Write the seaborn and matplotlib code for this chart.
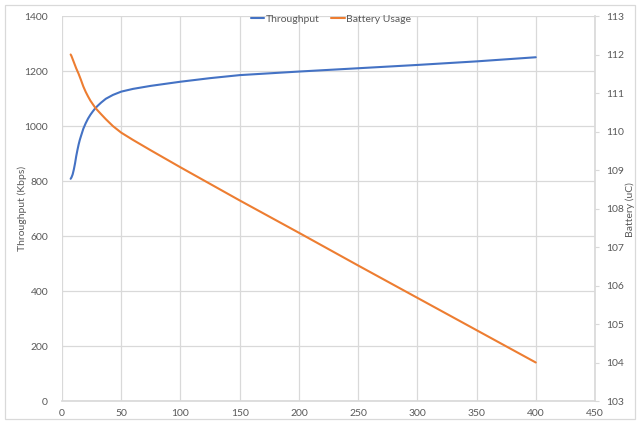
import matplotlib
matplotlib.use("Agg")
import matplotlib.pyplot as plt
import seaborn as sns
import pandas as pd
from matplotlib.patches import Rectangle
from matplotlib.lines import Line2D

# Measurement points
distance = [7.3, 8, 9, 10, 11, 12, 13, 14, 15, 16, 18, 20, 22, 24, 26, 28, 30, 33,
            37, 43, 50, 60, 75, 100, 125, 150, 200, 250, 300, 350, 400]
throughput = [808, 813, 824, 842, 864, 890, 912, 932, 949, 963, 990, 1010, 1027,
              1041, 1053, 1064, 1073, 1085, 1099, 1113, 1125, 1135, 1146, 1161,
              1174, 1185, 1198, 1210, 1222, 1235, 1250]
battery = [112.0, 111.96, 111.88, 111.80, 111.72, 111.64, 111.57, 111.50, 111.42,
           111.34, 111.17, 111.03, 110.91, 110.80, 110.71, 110.62, 110.55, 110.45,
           110.32, 110.14, 109.97, 109.78, 109.51, 109.07, 108.64, 108.21, 107.37,
           106.52, 105.68, 104.84, 104.0]

left_ticks = [0, 200, 400, 600, 800, 1000, 1200, 1400]
right_ticks = [103, 104, 105, 106, 107, 108, 109, 110, 111, 112, 113]
x_ticks = [0, 50, 100, 150, 200, 250, 300, 350, 400, 450]

df = pd.DataFrame({"distance": distance, "Throughput": throughput, "Battery Usage": battery})

sns.set_theme(style="white")
plt.rcParams["font.family"] = ["Lato", "DejaVu Sans"]

BLUE = "#4472C4"
ORANGE = "#ED7D31"
GRID = "#d9d9d9"
TXT = "#595959"

W, H = 640, 423
fig = plt.figure(figsize=(W / 100, H / 100), dpi=100)
ax = fig.add_axes([62 / W, 1 - 401 / H, (595 - 62) / W, (401 - 16) / H])
ax2 = ax.twinx()

sns.lineplot(data=df, x="distance", y="Throughput", ax=ax, color=BLUE, linewidth=1.5)
sns.lineplot(data=df, x="distance", y="Battery Usage", ax=ax2, color=ORANGE, linewidth=1.5)

ax.set_xlim(0, 450)
ax.set_ylim(0, 1400)
ax2.set_ylim(103, 113)
ax.set_xticks(x_ticks)
ax.set_yticks(left_ticks)
ax2.set_yticks(right_ticks)

ax.grid(True, color=GRID, linewidth=0.9)
ax.set_axisbelow(True)
ax2.grid(False)

for a in (ax, ax2):
    for s in a.spines.values():
        s.set_visible(False)
ax.spines["bottom"].set_visible(True)
ax.spines["bottom"].set_color(GRID)
ax2.spines["right"].set_visible(True)
ax2.spines["right"].set_color(GRID)

ax.tick_params(axis="x", length=0, pad=6, labelsize=7.5, labelcolor=TXT)
ax.tick_params(axis="y", length=0, pad=10, labelsize=7.5, labelcolor=TXT)
ax2.tick_params(axis="y", right=True, length=3, width=0.8, color=GRID, pad=5,
                labelsize=7.5, labelcolor=TXT)

ax.set_xlabel("")
ax.set_ylabel("")
ax2.set_ylabel("")
fig.text(22 / W, 1 - 208 / H, "Throughput (Kbps)", rotation=90, ha="center",
         va="center", fontsize=7.5, color=TXT)
fig.text(630 / W, 1 - 210 / H, "Battery (uC)", rotation=90, ha="center",
         va="center", fontsize=7.5, color=TXT)

handles = [Line2D([], [], color=BLUE, linewidth=1.5), Line2D([], [], color=ORANGE, linewidth=1.5)]
fig.legend(handles, ["Throughput", "Battery Usage"], loc="center",
           bbox_to_anchor=(331 / W, 1 - 19 / H), ncol=2, frameon=False,
           fontsize=7.5, labelcolor=TXT, handlelength=1.3, handletextpad=0.15,
           columnspacing=1.1)

fig.patches.append(Rectangle((4.5 / W, 4.5 / H), (635 - 4.5) / W, (418 - 4.5) / H,
                             transform=fig.transFigure, fill=False,
                             edgecolor=GRID, linewidth=0.9))

fig.savefig("out.png", dpi=100)
